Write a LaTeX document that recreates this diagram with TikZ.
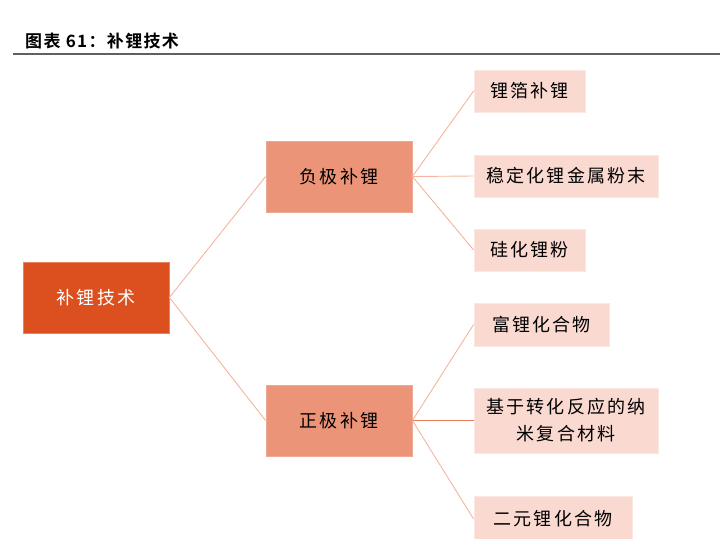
\documentclass[tikz,border=0pt]{standalone}
\usepackage{fontspec}
\newfontfamily\cjk[LetterSpace=12]{Noto Sans CJK SC}
\newfontfamily\cjkb[LetterSpace=8]{Noto Sans CJK SC Bold}
\definecolor{rootc}{HTML}{DC501F}
\definecolor{midc}{HTML}{EB9477}
\definecolor{leafc}{HTML}{F9D9D0}
\definecolor{linec}{HTML}{F4B49F}
\definecolor{lined}{HTML}{E97A5A}
\definecolor{rulec}{HTML}{606060}
\begin{document}
\begin{tikzpicture}[x=1pt,y=-1pt,
  box/.style={inner sep=0pt,align=center,font=\cjk\fontsize{18}{27}\selectfont},
  rootbox/.style={box,fill=rootc,draw=rootc!70!white,line width=0.8pt,text=white},
  midbox/.style={box,fill=midc,draw=midc!80!white,line width=0.8pt,text=black},
  leafbox/.style={box,fill=leafc,draw=leafc!60!white,line width=0.8pt,text=black},
  link/.style={draw=linec,line width=0.9pt},
  linkd/.style={draw=lined,line width=0.9pt}]
\useasboundingbox (0,0) rectangle (720,538);
\node[anchor=west,inner sep=0pt,font=\cjkb\fontsize{17}{17}\selectfont] (title) at (25,41) {图表 61：补锂技术};
\coordinate (rl) at (13,54);
\coordinate (rr) at (720,54);
\draw[rulec,line width=1.8pt] (rl) -- (rr);

\node[rootbox,minimum width=146pt,minimum height=71pt] (root) at (96,297.5) {补锂技术};
\node[midbox,minimum width=146pt,minimum height=71pt] (neg) at (339,176.5) {负极补锂};
\node[midbox,minimum width=146pt,minimum height=71pt] (pos) at (339,420.5) {正极补锂};

\node[leafbox,minimum width=111pt,minimum height=42pt] (l1) at (529.5,91) {锂箔补锂};
\node[leafbox,minimum width=184pt,minimum height=42pt] (l2) at (566,176) {稳定化锂金属粉末};
\node[leafbox,minimum width=111pt,minimum height=42pt] (l3) at (529.5,250) {硅化锂粉};
\node[leafbox,minimum width=135pt,minimum height=43pt] (l4) at (541.5,324.5) {富锂化合物};
\node[leafbox,minimum width=184pt,minimum height=65pt] (l5) at (566,420.5) {基于转化反应的纳\\米复合材料};
\node[leafbox,minimum width=158pt,minimum height=46pt] (l6) at (553,519) {二元锂化合物};

\draw[link] (root.east) -- (neg.west);
\draw[link] (root.east) -- (pos.west);
\draw[link] (neg.east) -- (l1.west);
\draw[link] (neg.east) -- (l2.west);
\draw[link] (neg.east) -- (l3.west);
\draw[link] (pos.east) -- (l4.west);
\draw[linkd] (pos.east) -- (l5.west);
\draw[link] (pos.east) -- (l6.west);
\end{tikzpicture}
\end{document}
